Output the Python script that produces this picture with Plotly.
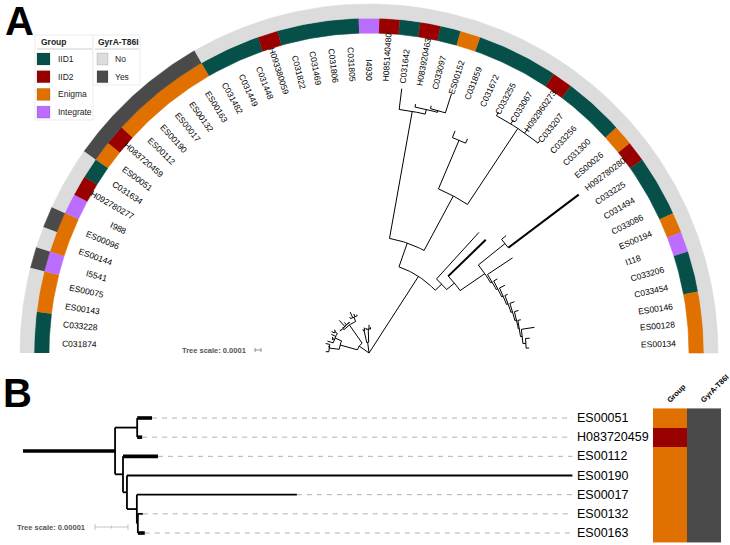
import copy
import math
import plotly.graph_objects as go

# leaves in tree order (panel A, clockwise from the lower left)
LEAVES = [
    "C031874", "C033228", "ES00143", "ES00075", "I5541", "ES00144", "ES00096",
    "I988", "H092780277", "C031634", "ES00051", "H083720459", "ES00112",
    "ES00190", "ES00017", "ES00132", "ES00163", "C031482", "C031449",
    "C031448", "H093380059", "C031822", "C031469", "C031806", "C031805",
    "I4930", "H085140480", "C031642", "H083920463", "C033097", "ES00152",
    "C031859", "C031672", "C033255", "C033067", "H092960273", "C033207",
    "C033256", "C031300", "ES00026", "H092780280", "C033225", "C031494",
    "C033086", "ES00194", "I118", "C033206", "C033454", "ES00146", "ES00128",
    "ES00134",
]
GROUPS = [
    "IID1", "IID1", "Enigma", "Enigma", "Integrate", "Enigma", "Enigma",
    "Integrate", "IID2", "IID1", "Enigma", "IID2", "Enigma",
    "Enigma", "Enigma", "Enigma", "Enigma", "IID1", "IID1",
    "IID1", "IID2", "IID1", "IID1", "IID1", "IID1",
    "Integrate", "IID2", "IID1", "IID2", "IID1", "Enigma",
    "IID1", "IID1", "IID1", "IID1", "IID2", "IID1",
    "IID1", "IID1", "Enigma", "IID2", "IID1", "IID1",
    "IID1", "Enigma", "Integrate", "IID1", "IID1", "Enigma", "Enigma",
    "Enigma",
]
GYRA = [
    "No", "No", "No", "No", "Yes", "No", "Yes",
    "No", "No", "No", "Yes", "Yes", "Yes",
    "Yes", "Yes", "Yes", "Yes", "No", "No",
    "No", "No", "No", "No", "No", "No",
    "No", "No", "No", "No", "No", "No",
    "No", "No", "No", "No", "No", "No",
    "No", "No", "No", "No", "No", "No",
    "No", "No", "No", "No", "No", "No", "No",
    "No",
]

GROUP_NAMES = ["IID1", "IID2", "Enigma", "Integrate"]
GYRA_NAMES = ["No", "Yes"]
GROUP_COLORS = {"IID1": "#074f49", "IID2": "#990000",
                "Enigma": "#e07000", "Integrate": "#bb6dff"}
GYRA_COLORS = {"No": "#dcdcdc", "Yes": "#4a4a4a"}

# branch lengths in substitutions/site
TREE_NEWICK = (
    "(((("
    "C031874:0.00005,C033228:0,ES00143:0.00002,ES00075:0.00007):0.00017,"
    "(I5541:0.0001,(ES00144:0,ES00096:0.00002):0.00003,I988:0.00008,"
    "(H092780277:0.00005,C031634:0.00003):0.00005):0.00012):0.0003,"
    "(((ES00051:0.0000045,H083720459:0.0000015):0.0000067,"
    "(ES00112:0.0000106,(ES00190:0.000135,(ES00017:0.0000485,"
    "(ES00132:0.0000015,ES00163:0.0000021):0.0000003):0.000003):0.0000012)"
    ":0.0000024)ES:0.0000279,"
    "(C031482:0.00003,C031449:0.0001,C031448:0.00005,H093380059:0.00002)"
    ":0.00008):0.00037):0.0002,"
    "((C031822:0.00003,C031469:0.00005):0.0002,"
    "(C031806:0.00002,C031805:0,I4930:0.00007,H085140480:0.00003):0.00022)"
    ":0.00018,"
    "(((C031642:0.00035,(H083920463:0.00005,(C033097:0.00005,"
    "ES00152:0.00033):0.00003):0.00008):0.00215,"
    "((C031859:0.00012,C031672:0.00008):0.00088,"
    "(C033255:0.00007,C033067:0.00008,H092960273:0.00007,C033207:0.00005)"
    ":0.00152):0.00103):0.00042,"
    "(C033256:0.00105,(C031300:0.00087,((ES00026:0.0001,H092780280:0.00147)"
    ":0.00057,(C033225:0.0005,(C031494:0.00007,(C033086:0.0001,"
    "(ES00194:0.00005,(I118:0.00008,(C033206:0.00007,(C033454:0.00005,"
    "(ES00146:0.00022,(ES00128:0.00007,ES00134:0.00005):0.00005):0.00003)"
    ":0.00002):0.00003):0.00003):0.00003):0.00003):0.00003):0.00003)"
    ":0.0005):0.00017):0.00015):0.00152);"
)
THICK_A = {"H092780280", "C031300"}
CLADE_B = "ES"
THICK_B = {"ES", "ES00051", "H083720459", "ES00112", "ES00163"}
B_COLUMNS = ["Group", "GyrA-T86I"]

W, H = 730, 545
CX, CY = 369, 353
A_BOTTOM = 365
SCALE_A = 60000.0
R_LABEL = 272
R_GROUP = (320, 335)
R_GYRA = (335, 349)
LABEL_SIZE = 8.5
FONT = "Liberation Sans, Arial, sans-serif"

B_ROOT_X = 23
SCALE_B = 3.3e6
B_TOP, B_ROW0, B_STEP = 370, 418, 19.17
B_LABEL_SIZE = 12.5

CHAR_W = {"C": 0.722, "E": 0.667, "S": 0.667, "H": 0.722, "I": 0.278}


def text_width(s, size):
    return sum(CHAR_W.get(c, 0.556) for c in s) * size


def parse_newick(text):
    s = text.strip().rstrip(";")
    pos = 0

    def read():
        nonlocal pos
        node = {"name": "", "len": 0.0, "kids": []}
        if s[pos] == "(":
            pos += 1
            node["kids"].append(read())
            while s[pos] == ",":
                pos += 1
                node["kids"].append(read())
            pos += 1
        start = pos
        while pos < len(s) and s[pos] not in ",():":
            pos += 1
        node["name"] = s[start:pos]
        if pos < len(s) and s[pos] == ":":
            pos += 1
            start = pos
            while pos < len(s) and s[pos] not in ",()":
                pos += 1
            node["len"] = float(s[start:pos])
        return node

    return read()


def place(node, dist, order):
    node["dist"] = dist
    if not node["kids"]:
        node["t"] = len(order)
        order.append(node["name"])
    else:
        for k in node["kids"]:
            place(k, dist + k["len"], order)
        node["t"] = (node["kids"][0]["t"] + node["kids"][-1]["t"]) / 2
    return order


def find(node, name):
    if node["name"] == name:
        return node
    for k in node["kids"]:
        hit = find(k, name)
        if hit:
            return hit
    return None


def paper(x, y):
    return x / W, 1 - y / H


tree = parse_newick(TREE_NEWICK)
order = place(tree, 0.0, [])
assert order == LEAVES, order
N = len(LEAVES)


def ang(t):
    return 180 - (t + 0.5) * 180 / N


def polar(r, deg):
    a = math.radians(deg)
    return r * math.cos(a), r * math.sin(a)


fig = go.Figure()

# ---- panel A: rings
def ring(values, colors, r0, r1):
    runs = []
    start = 0
    for i in range(1, N + 1):
        if i == N or values[i] != values[start]:
            runs.append((start, i, values[start]))
            start = i
    for i0, i1, v in runs:
        a0, a1 = 180 - i0 * 180 / N, 180 - i1 * 180 / N
        steps = max(4, int(abs(a0 - a1) * 2))
        xs, ys = [], []
        for k in range(steps + 1):
            x, y = polar(r1, a0 + (a1 - a0) * k / steps)
            xs.append(x)
            ys.append(y)
        for k in range(steps + 1):
            x, y = polar(r0, a1 + (a0 - a1) * k / steps)
            xs.append(x)
            ys.append(y)
        fig.add_trace(go.Scatter(x=xs, y=ys, fill="toself", fillcolor=colors[v],
                                 mode="lines", line=dict(width=0.6, color=colors[v]),
                                 hoverinfo="skip", xaxis="x", yaxis="y"))


ring(GROUPS, GROUP_COLORS, *R_GROUP)
ring(GYRA, GYRA_COLORS, *R_GYRA)

# ---- panel A: circular tree
segs = {"thin": ([], []), "thick": ([], [])}


def add(key, pts):
    xs, ys = segs[key]
    for x, y in pts:
        xs.append(x)
        ys.append(y)
    xs.append(None)
    ys.append(None)


def walk_a(node, parent_r):
    r = node["dist"] * SCALE_A
    a = ang(node["t"])
    if parent_r is not None:
        key = "thick" if node["name"] in THICK_A else "thin"
        add(key, [polar(parent_r, a), polar(r, a)])
    if node["kids"]:
        a0, a1 = ang(node["kids"][0]["t"]), ang(node["kids"][-1]["t"])
        steps = max(2, int(abs(a0 - a1)))
        add("thin", [polar(r, a0 + (a1 - a0) * k / steps) for k in range(steps + 1)])
        for k in node["kids"]:
            walk_a(k, r)


walk_a(tree, None)
for key, width in (("thin", 1.0), ("thick", 2.0)):
    fig.add_trace(go.Scatter(x=segs[key][0], y=segs[key][1], mode="lines",
                             line=dict(color="black", width=width),
                             hoverinfo="skip", xaxis="x", yaxis="y"))

annotations = []
for i, name in enumerate(LEAVES):
    a = ang(i)
    rc = R_LABEL + text_width(name, LABEL_SIZE) / 2
    x, y = polar(rc, a)
    annotations.append(dict(
        x=x, y=y, xref="x", yref="y", text=name, showarrow=False,
        textangle=-a if a < 90 else 180 - a, xanchor="center", yanchor="middle",
        font=dict(family=FONT, size=LABEL_SIZE, color="black")))

# ---- panel B: rectangular subtree
sub = copy.deepcopy(find(tree, CLADE_B))
order_b = place(sub, sub["len"], [])
segs_b = {"thin": ([], []), "thick": ([], [])}
dash_x, dash_y = [], []


def walk_b(node, parent_d):
    d, y = node["dist"], node["t"]
    key = "thick" if node["name"] in THICK_B else "thin"
    xs, ys = segs_b[key]
    xs += [parent_d, d, None]
    ys += [y, y, None]
    if node["kids"]:
        xs, ys = segs_b["thin"]
        xs += [d, d, None]
        ys += [node["kids"][0]["t"], node["kids"][-1]["t"], None]
        for k in node["kids"]:
            walk_b(k, d)


walk_b(sub, 0.0)
leaves_b = []


def collect(node):
    if not node["kids"]:
        leaves_b.append(node)
    for k in node["kids"]:
        collect(k)


collect(sub)
d_max = max(n["dist"] for n in leaves_b)
for n in leaves_b:
    if n["dist"] < d_max * 0.99:
        dash_x += [n["dist"], d_max, None]
        dash_y += [n["t"], n["t"], None]

fig.add_trace(go.Scatter(x=dash_x, y=dash_y, mode="lines",
                         line=dict(color="#b0b0b0", width=1, dash="5px,5px"),
                         hoverinfo="skip", xaxis="x2", yaxis="y2"))
for key, width in (("thin", 1.8), ("thick", 3.6)):
    fig.add_trace(go.Scatter(x=segs_b[key][0], y=segs_b[key][1], mode="lines",
                             line=dict(color="black", width=width),
                             hoverinfo="skip", xaxis="x2", yaxis="y2"))

for n in leaves_b:
    annotations.append(dict(
        x=d_max, y=n["t"], xref="x2", yref="y2", text=n["name"], showarrow=False,
        xanchor="left", yanchor="middle", xshift=3,
        font=dict(family=FONT, size=B_LABEL_SIZE, color="black")))

# heatmap beside panel B
codes = {name: i for i, name in enumerate(GROUP_NAMES + GYRA_NAMES)}
palette = [GROUP_COLORS[g] for g in GROUP_NAMES] + [GYRA_COLORS[g] for g in GYRA_NAMES]
scale = []
for i, c in enumerate(palette):
    scale.append([i / len(palette), c])
    scale.append([(i + 1) / len(palette), c])
z = []
for name in order_b:
    idx = LEAVES.index(name)
    z.append([codes[GROUPS[idx]], codes[GYRA[idx]]])
fig.add_trace(go.Heatmap(x=B_COLUMNS, y=list(range(len(order_b))), z=z,
                         colorscale=scale, zmin=-0.5, zmax=len(palette) - 0.5,
                         showscale=False, hoverinfo="skip", xaxis="x3", yaxis="y2"))
for col in B_COLUMNS:
    annotations.append(dict(
        x=col, y=-0.55, xref="x3", yref="y2", text="<b>%s</b>" % col,
        showarrow=False, textangle=-45, xanchor="left", yanchor="bottom",
        xshift=-8, font=dict(family=FONT, size=7.5, color="black")))

# ---- legend, scale bars, panel letters
shapes = []


def rect(x0, y0, x1, y1, fill, line="rgba(0,0,0,0)", lw=0):
    (a, b), (c, d) = paper(x0, y0), paper(x1, y1)
    shapes.append(dict(type="rect", xref="paper", yref="paper", x0=a, y0=b, x1=c,
                       y1=d, fillcolor=fill, line=dict(color=line, width=lw)))


def hline(x0, x1, y, color, lw=1):
    (a, b), (c, _) = paper(x0, y), paper(x1, y)
    shapes.append(dict(type="line", xref="paper", yref="paper", x0=a, y0=b, x1=c,
                       y1=b, line=dict(color=color, width=lw)))


def vline(x, y0, y1, color, lw=1):
    (a, b), (_, d) = paper(x, y0), paper(x, y1)
    shapes.append(dict(type="line", xref="paper", yref="paper", x0=a, y0=b, x1=a,
                       y1=d, line=dict(color=color, width=lw)))


def text(x, y, s, size, bold=False, color="#222", anchor="left"):
    px_, py_ = paper(x, y)
    annotations.append(dict(x=px_, y=py_, xref="paper", yref="paper",
                            text="<b>%s</b>" % s if bold else s, showarrow=False,
                            xanchor=anchor, yanchor="middle",
                            font=dict(family=FONT, size=size, color=color)))


rect(35, 35, 93, 120, "white", "#ececec", 1)
rect(93, 35, 140, 85, "white", "#ececec", 1)
text(39, 42, "Group", 8.5, bold=True)
text(96, 42, "GyrA-T86I", 8.5, bold=True)
hline(37, 92, 49, "#cfcfcf")
hline(95, 139, 49, "#cfcfcf")
for k, g in enumerate(GROUP_NAMES):
    y0 = 53 + k * 17.7
    rect(37, y0, 50, y0 + 12, GROUP_COLORS[g], "rgba(0,0,0,0.25)", 0.5)
    text(56, y0 + 6, g, 8.5)
for k, g in enumerate(GYRA_NAMES):
    y0 = 53 + k * 17.7
    rect(97, y0, 108, y0 + 12, GYRA_COLORS[g], "rgba(0,0,0,0.25)", 0.5)
    text(113, y0 + 6, g, 8.5)

text(180, 350, "Tree scale: 0.0001", 7.5, bold=True, color="#555")
bar_a = 0.0001 * SCALE_A
hline(255, 255 + bar_a, 350, "#777", 0.8)
vline(255, 348, 352, "#777", 0.8)
vline(255 + bar_a, 348, 352, "#777", 0.8)

text(15, 527, "Tree scale: 0.00001", 7.5, bold=True, color="#555")
bar_b = 0.00001 * SCALE_B
hline(95, 95 + bar_b, 527, "#b5b5b5", 0.8)
vline(95, 524, 530, "#b5b5b5", 0.8)
vline(95 + bar_b, 524, 530, "#b5b5b5", 0.8)
vline(95 + bar_b / 2, 525.5, 528.5, "#b5b5b5", 0.8)

text(3, 21, "A", 40, bold=True, color="black")
text(1, 393, "B", 40, bold=True, color="black")

hidden = dict(visible=False, showgrid=False, zeroline=False)
fig.update_layout(
    width=W, height=H, margin=dict(l=0, r=0, t=0, b=0),
    paper_bgcolor="white", plot_bgcolor="white", showlegend=False,
    xaxis=dict(domain=[0, 1], range=[-CX, W - CX], anchor="y", **hidden),
    yaxis=dict(domain=[1 - A_BOTTOM / H, 1], range=[CY - A_BOTTOM, CY],
               anchor="x", **hidden),
    xaxis2=dict(domain=[0, 1], range=[-B_ROOT_X / SCALE_B, (W - B_ROOT_X) / SCALE_B],
                anchor="y2", **hidden),
    yaxis2=dict(domain=[0, (H - B_TOP) / H],
                range=[(H - B_ROW0) / B_STEP, (B_TOP - B_ROW0) / B_STEP],
                anchor="x2", **hidden),
    xaxis3=dict(domain=[653 / W, 721 / W], range=[-0.5, 1.5], type="category",
                anchor="y2", **hidden),
    annotations=annotations, shapes=shapes,
)
# the page's default body margin would push the figure 8px off the window
fig.write_html("out.html", config={"displayModeBar": False},
               post_script="document.body.style.margin = '0';")
